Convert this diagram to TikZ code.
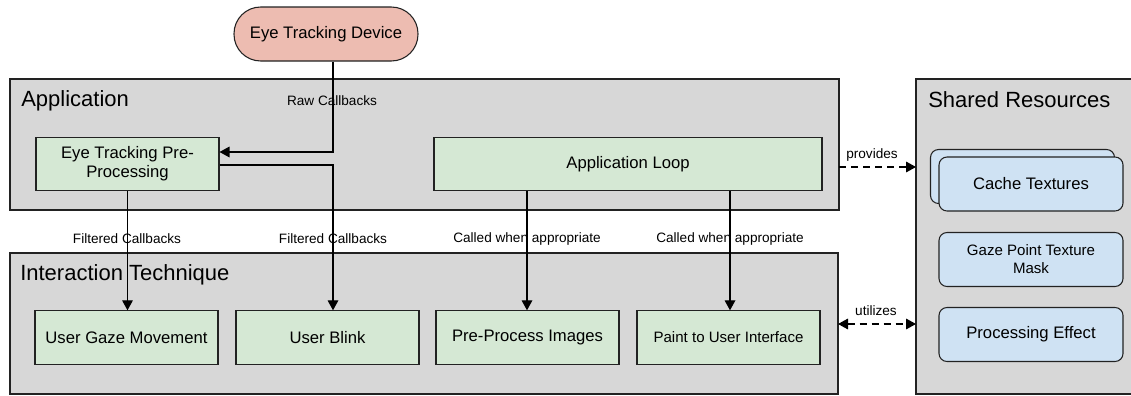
\documentclass[tikz,border=0pt]{standalone}
\usepackage{fontspec}
\setmainfont{Liberation Sans}
\usetikzlibrary{arrows.meta,calc}
\definecolor{cgray}{HTML}{D7D7D7}
\definecolor{cgreen}{HTML}{D5E8D4}
\definecolor{cblue}{HTML}{CFE2F3}
\definecolor{csalmon}{HTML}{EDBCB1}
\definecolor{cline}{HTML}{222222}
\begin{document}
\begin{tikzpicture}[x=0.75pt,y=-0.75pt,
  container/.style={draw=cline,fill=cgray,line width=0.8pt},
  greenbox/.style={draw=cline,fill=cgreen,line width=0.8pt,minimum width=137.25pt,minimum height=40pt,inner sep=0pt,align=center,font=\fontsize{12.5pt}{14.5pt}\selectfont},
  bluebox/.style={draw=cline,fill=cblue,line width=0.8pt,rounded corners=6pt,minimum width=138pt,minimum height=40.5pt,inner sep=0pt,align=center,font=\fontsize{12.5pt}{14.5pt}\selectfont},
  title/.style={anchor=west,inner sep=0pt,font=\fontsize{16.5pt}{19pt}\selectfont},
  lbl/.style={inner sep=0pt,font=\fontsize{10.2pt}{12pt}\selectfont},
  tip/.style={},
  arr/.style={draw=black,line width=0.9pt,-{Triangle[length=7.5pt,width=8pt]}},
  darr/.style={draw=black,line width=0.9pt,dash pattern=on 5.25pt off 3.75pt,-{Triangle[length=7.5pt,width=8pt]}},
  ddarr/.style={draw=black,line width=0.9pt,dash pattern=on 5.25pt off 3.75pt,{Triangle[length=7.5pt,width=8pt]}-{Triangle[length=7.5pt,width=8pt]}}
]
\useasboundingbox (0,0) rectangle (1131,396);
\clip (0,0) rectangle (1131,396);

% containers
\draw[container] (10,79) rectangle (839,210);
\node[title] (apptitle) at (21,101) {Application};
\draw[container] (10,253) rectangle (838,394);
\node[title] (ittitle) at (20,275) {Interaction Technique};
\draw[container] (916,79) rectangle (1140,394);
\node[title] (srtitle) at (928,100) {Shared Resources};
\coordinate (appE) at (839,167);
\coordinate (itE) at (838,324);
\coordinate (srW1) at (916,167);
\coordinate (srW2) at (916,324);

% device
\node[draw=cline,fill=csalmon,line width=0.8pt,rounded corners=20pt,minimum width=138pt,minimum height=40.5pt,inner sep=0pt,font=\fontsize{12.5pt}{14.5pt}\selectfont] (dev) at (326,34) {Eye Tracking Device};

% application boxes
\node[greenbox] (pre) at (127.5,164) {Eye Tracking Pre-\\Processing};
\node[greenbox,minimum width=291pt] (loop) at (628,164) {Application Loop};

% interaction boxes
\node[greenbox] (ugm) at (126.5,337.5) {User Gaze Movement};
\node[greenbox] (blink) at (327.5,337.5) {User Blink};
\node[greenbox] (ppi) at (527.5,337.5) {Pre-Process Images};
\node[greenbox,font=\fontsize{11.3pt}{13.5pt}\selectfont] (paint) at (728.5,337.5) {Paint to User Interface};

% shared resource boxes
\node[bluebox] (cacheback) at (1022.5,176.5) {};
\node[bluebox] (cache) at (1031,184) {Cache Textures};
\node[bluebox,font=\fontsize{11.3pt}{13.5pt}\selectfont] (gaze) at (1031,259.5) {Gaze Point Texture\\Mask};
\node[bluebox] (proc) at (1031,334.5) {Processing Effect};

% connectors
\coordinate (c1) at (333,152);
\coordinate (c2) at (333,165);
\draw[arr] (dev.south -| c1) |- (pre.east |- c1);
\node[lbl] (rawlbl) at (332,101) {Raw Callbacks};
\draw[arr] (pre.east |- c2) -| (c2 |- blink.north);
\draw[arr] (pre.south) -- (ugm.north -| pre.south);
\node[lbl] (f1) at (127,239) {Filtered Callbacks};
\node[lbl] (f2) at (333,239) {Filtered Callbacks};

\coordinate (c3) at (527,0);
\coordinate (c4) at (730,0);
\draw[arr] (c3 |- loop.south) -- (c3 |- ppi.north);
\draw[arr] (c4 |- loop.south) -- (c4 |- paint.north);
\node[lbl] (w1) at (527,239) {Called when appropriate};
\node[lbl] (w2) at (730,239) {Called when appropriate};

\draw[darr] (appE) -- (srW1);
\node[lbl] (prov) at (872,155) {provides};
\draw[ddarr] (itE) -- (srW2);
\node[lbl] (util) at (876,311) {utilizes};
\end{tikzpicture}
\end{document}
